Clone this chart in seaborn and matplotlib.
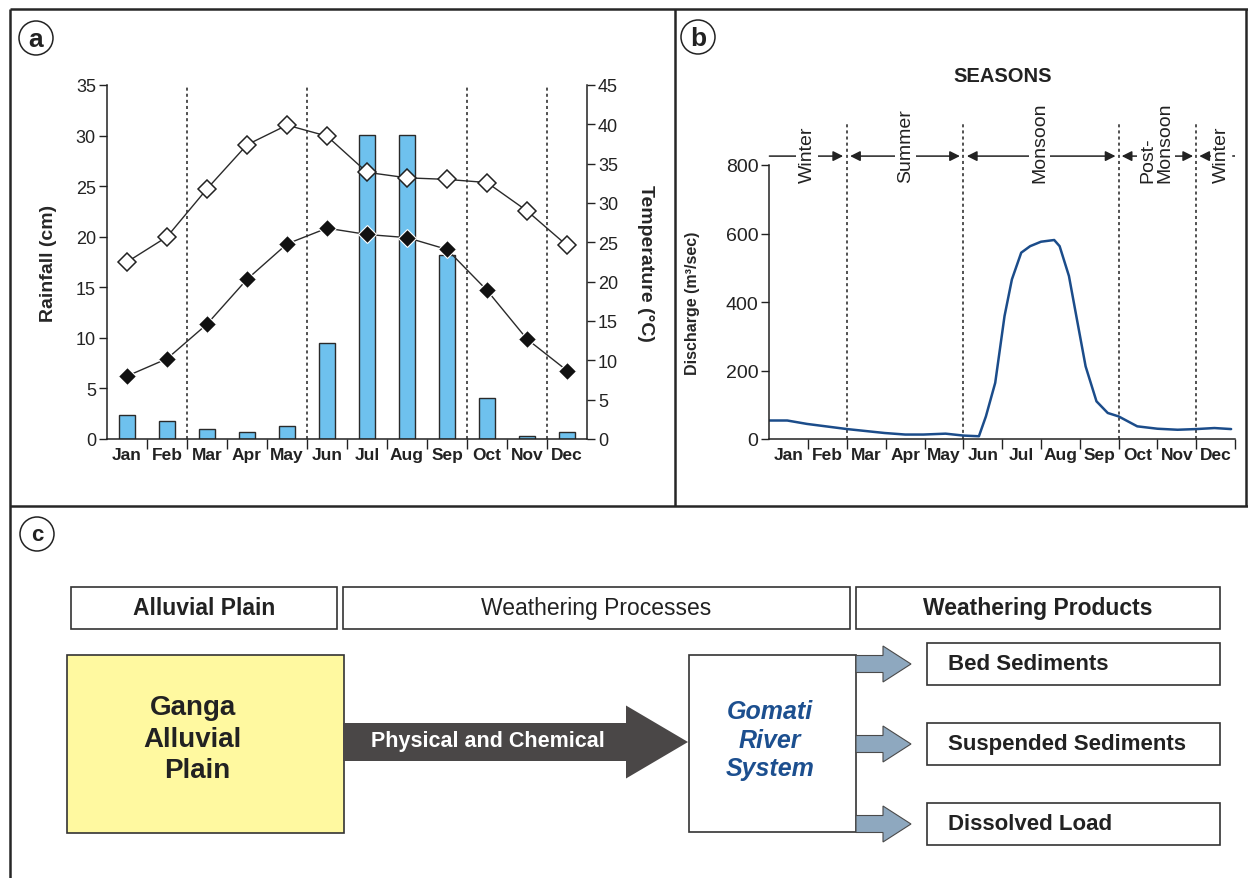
import numpy as np
import pandas as pd
import matplotlib
matplotlib.use("Agg")
import matplotlib.pyplot as plt
import seaborn as sns
from matplotlib.patches import Rectangle, FancyArrow, Circle

# ---- monthly climate (panel a) ----
months = ["Jan", "Feb", "Mar", "Apr", "May", "Jun",
          "Jul", "Aug", "Sep", "Oct", "Nov", "Dec"]
rainfall_cm = [2.4, 1.8, 1.0, 0.7, 1.3, 9.5, 30.1, 30.1, 18.2, 4.1, 0.3, 0.7]
temp_max_c = [22.5, 25.7, 31.8, 37.4, 39.9, 38.5, 33.9, 33.2, 33.0, 32.6, 29.0, 24.6]
temp_min_c = [8.0, 10.2, 14.6, 20.3, 24.8, 26.8, 26.0, 25.6, 24.1, 18.9, 12.7, 8.7]
season_bounds = [2, 5, 9, 11]

# ---- river discharge through the year (panel b), x in months from 1 Jan ----
discharge_month = [0, 0.46, 0.97, 2.0, 2.97, 3.5, 3.97, 4.54, 5.0, 5.4, 5.58,
                   5.82, 6.06, 6.25, 6.49, 6.72, 7.0, 7.34, 7.48, 7.72, 7.91,
                   8.15, 8.43, 8.72, 9.0, 9.48, 10.0, 10.52, 11.0, 11.47, 11.9]
discharge_m3s = [54, 54, 44, 29, 17.5, 13, 13, 15.6, 10, 8, 66,
                 164, 359, 466, 544, 563, 576, 581, 563, 476, 359,
                 212, 110, 76, 66, 37, 30, 27, 29, 32, 29]

season_names = ["Winter", "Summer", "Monsoon", "Post-\nMonsoon", "Winter"]
season_label_x = [0.97, 3.5, 6.97, 9.97, 11.65]

# ---- flow diagram text (panel c) ----
header_labels = ["Alluvial Plain", "Weathering Processes", "Weathering Products"]
source_lines = ["Ganga", "Alluvial", "Plain"]
process_label = "Physical and Chemical"
river_lines = ["Gomati", "River", "System"]
product_labels = ["Bed Sediments", "Suspended Sediments", "Dissolved Load"]

sns.set_style("ticks")
plt.rcParams["font.family"] = ["Liberation Sans", "DejaVu Sans"]
plt.rcParams["axes.edgecolor"] = "#222222"
plt.rcParams["xtick.color"] = "#222222"
plt.rcParams["ytick.color"] = "#222222"
plt.rcParams["text.color"] = "#222222"

W, H = 1248, 879
fig = plt.figure(figsize=(W / 100, H / 100), dpi=100)

# full-figure pixel canvas for frames, labels and the diagram
ov = fig.add_axes([0, 0, 1, 1])
ov.set_xlim(0, W)
ov.set_ylim(H, 0)
ov.axis("off")

DARK = "#222222"


def fig_rect(x0, y0, x1, y1):
    return [x0 / W, 1 - y1 / H, (x1 - x0) / W, (y1 - y0) / H]


# ================= panel a =================
axa = fig.add_axes(fig_rect(107, 86, 587, 440))
df_a = pd.DataFrame({
    "pos": np.arange(len(months)) + 0.5,
    "month": months,
    "rain": rainfall_cm,
    "tmax": temp_max_c,
    "tmin": temp_min_c,
})
axa.vlines(season_bounds, 0, 35, colors=DARK, linestyles=(0, (2, 2)), lw=1.1, zorder=1)
sns.barplot(data=df_a, x="pos", y="rain", native_scale=True, width=0.38,
            color="#6ec1ee", saturation=1, edgecolor="#2a2a2a", linewidth=1.0,
            errorbar=None, ax=axa, zorder=2)
axa.set_xlim(0, 12)
axa.set_ylim(0, 35)
axa.set_yticks(np.arange(0, 36, 5))
axa.set_xticks(df_a["pos"])
axa.set_xticklabels(months, fontweight="bold", fontsize=12.5)
axa.set_xticks(np.arange(1, 12), minor=True)
axa.tick_params(axis="x", which="major", length=0, pad=6)
axa.tick_params(axis="x", which="minor", length=7, width=1, direction="out")
axa.tick_params(axis="y", length=6, width=1, labelsize=13, pad=2)
axa.set_xlabel("")
axa.set_ylabel("Rainfall (cm)", fontsize=14, fontweight="bold")
axa.yaxis.set_label_coords(-0.104, 0.5)
for s in ["top", "right"]:
    axa.spines[s].set_visible(False)
for s in ["left", "bottom"]:
    axa.spines[s].set_linewidth(1.1)

axt = axa.twinx()
sns.lineplot(data=df_a, x="pos", y="tmax", ax=axt, color="#2a2a2a", lw=1.0,
             marker="D", markersize=9, markerfacecolor="white",
             markeredgecolor="#222222", markeredgewidth=1.1, zorder=4)
sns.lineplot(data=df_a, x="pos", y="tmin", ax=axt, color="#2a2a2a", lw=1.0,
             marker="D", markersize=9, markerfacecolor="#111111",
             markeredgecolor="white", markeredgewidth=0.8, zorder=4)
axt.set_ylim(0, 45)
axt.set_xlim(0, 12)
axt.set_yticks(np.arange(0, 46, 5))
axt.tick_params(axis="y", length=6, width=1, labelsize=13, pad=2)
axt.set_ylabel("Temperature (°C)", fontsize=14, fontweight="bold",
               rotation=-90, va="center")
axt.yaxis.set_label_coords(1.121, 0.5)
axt.set_xlabel("")
for s in ["top", "left", "bottom"]:
    axt.spines[s].set_visible(False)
axt.spines["right"].set_linewidth(1.1)

# ================= panel b =================
axb = fig.add_axes(fig_rect(769.4, 166, 1235, 440))
df_b = pd.DataFrame({"month": discharge_month, "q": discharge_m3s})
sns.lineplot(data=df_b, x="month", y="q", ax=axb, color="#1b4c8a", lw=1.8,
             sort=False)
axb.set_xlim(0, 12)
axb.set_ylim(0, 800)
axb.set_yticks(np.arange(0, 801, 200))
axb.set_xticks(np.arange(len(months)) + 0.5)
axb.set_xticklabels(months, fontweight="bold", fontsize=12.5)
axb.set_xticks(np.arange(1, 13), minor=True)
axb.tick_params(axis="x", which="major", length=0, pad=6)
axb.tick_params(axis="x", which="minor", length=7, width=1, direction="out")
axb.tick_params(axis="y", length=6, width=1, labelsize=14, pad=2)
axb.set_xlabel("")
axb.set_ylabel("Discharge (m³/sec)", fontsize=11.5, fontweight="bold")
axb.yaxis.set_label_coords(-0.149, 0.5)
for s in ["top", "right"]:
    axb.spines[s].set_visible(False)
for s in ["left", "bottom"]:
    axb.spines[s].set_linewidth(1.1)

# season boundaries and labels above the plot area
axb.vlines(season_bounds, 0, 920, colors=DARK, linestyles=(0, (2, 2)),
           lw=1.1, clip_on=False, zorder=1)
arrow_y = 826
arrow_spans = [(0.0, 1.90, "-|>"), (2.08, 4.91, "<|-|>"), (5.09, 8.92, "<|-|>"),
               (9.08, 10.92, "<|-|>"), (11.08, 11.62, "<|-")]
for x0, x1, style in arrow_spans:
    axb.annotate("", xy=(x1, arrow_y), xytext=(x0, arrow_y),
                 arrowprops=dict(arrowstyle=style, color=DARK, lw=1.1,
                                 shrinkA=0, shrinkB=0, mutation_scale=15),
                 annotation_clip=False, zorder=2)
axb.plot([11.62, 12.0], [arrow_y, arrow_y], color=DARK, lw=1.1,
         ls=(0, (2, 2)), clip_on=False, zorder=2)
for name, xs in zip(season_names, season_label_x):
    axb.text(xs, 750, name, rotation=90, ha="center", va="bottom",
             multialignment="left", fontsize=14, linespacing=0.95,
             bbox=dict(facecolor="white", edgecolor="none", pad=1.5),
             clip_on=False, zorder=5)
axb.text(6, 1060, "SEASONS", ha="center", va="center", fontsize=14.5,
         fontweight="bold", clip_on=False)

# ================= frames and panel letters =================
frame_kw = dict(color="#262626", lw=1.8, solid_capstyle="butt")
ov.plot([10, W], [10, 10], **frame_kw)
ov.plot([10, 10], [10, H], **frame_kw)
ov.plot([10, W], [507, 507], **frame_kw)
ov.plot([675, 675], [10, 507], **frame_kw)
ov.plot([1246, 1246], [10, 507], **frame_kw)

for letter, (cx, cy), fs in [("a", (36, 39), 19), ("b", (698, 38), 19),
                             ("c", (37, 535), 16)]:
    ov.add_patch(Circle((cx, cy), 17, facecolor="white", edgecolor=DARK, lw=1.1))
    ov.text(cx, cy + 1, letter, ha="center", va="center", fontsize=fs,
            fontweight="bold")

# ================= panel c: flow diagram =================
box_kw = dict(facecolor="white", edgecolor="#333333", lw=1.2)
header_boxes = [(71, 337), (343, 850), (856, 1220)]
header_weights = ["bold", "normal", "bold"]
for (x0, x1), lab, wt in zip(header_boxes, header_labels, header_weights):
    ov.add_patch(Rectangle((x0, 588), x1 - x0, 42, **box_kw))
    ov.text((x0 + x1) / 2, 609, lab, ha="center", va="center", fontsize=16.5,
            fontweight=wt)

ov.add_patch(Rectangle((67, 656), 277, 178, facecolor="#fff9a0",
                       edgecolor="#333333", lw=1.2))
for line, (tx, ty) in zip(source_lines, [(193, 708), (192, 740), (197, 771)]):
    ov.text(tx, ty, line, ha="center", va="center", fontsize=20,
            fontweight="bold")

ov.add_patch(FancyArrow(343, 743, 345, 0, width=38, head_width=73,
                        head_length=62, length_includes_head=True,
                        facecolor="#4a4747", edgecolor="none"))
ov.text(488, 742, process_label, ha="center", va="center", fontsize=15.5,
        fontweight="bold", color="white")

ov.add_patch(Rectangle((689, 656), 167, 177, **box_kw))
for line, ty in zip(river_lines, [712, 741, 769]):
    ov.text(770, ty, line, ha="center", va="center", fontsize=18,
            fontweight="bold", style="italic", color="#1c4f8f")

for lab, yt in zip(product_labels, [644, 724, 804]):
    yc = yt + 21
    ov.add_patch(FancyArrow(856, yc, 55, 0, width=17, head_width=36,
                            head_length=28, length_includes_head=True,
                            facecolor="#8ea8bf", edgecolor="#4a4a4a", lw=0.8))
    ov.add_patch(Rectangle((927, yt), 293, 42, **box_kw))
    ov.text(948, yc, lab, ha="left", va="center", fontsize=16,
            fontweight="bold")

fig.savefig("out.png", dpi=100)
